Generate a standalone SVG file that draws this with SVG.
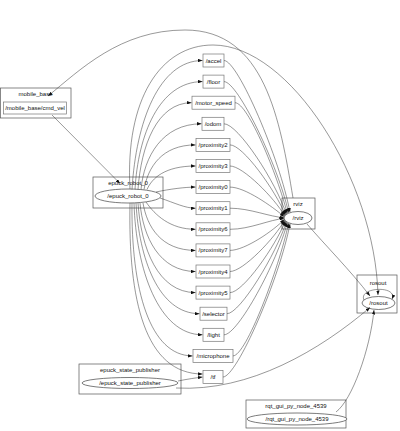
<svg xmlns="http://www.w3.org/2000/svg" width="400" height="431" viewBox="0 0 400 431">
<defs>
<marker id="ah" markerUnits="userSpaceOnUse" markerWidth="4.5" markerHeight="3.4" refX="4.5" refY="1.7" orient="auto"><path d="M0,0 L4.5,1.7 L0,3.4 z" fill="#111"/></marker>
</defs>
<style>
.cl{fill:none;stroke:#555;stroke-width:0.7}
.tp{fill:#fff;stroke:#777;stroke-width:0.7}
.nd{fill:#fff;stroke:#444;stroke-width:0.7}
.e{fill:none;stroke:#333;stroke-width:0.5;marker-end:url(#ah)}
text{font-family:"Liberation Sans",Arial,sans-serif;font-size:6px;fill:#111;text-anchor:middle}
</style>
<rect width="400" height="431" fill="#fff"/>
<g id="mobile_base"><rect class="cl" x="0.5" y="88" width="70.5" height="30"/><text x="35.5" y="96">mobile_base</text><rect class="tp" x="3.5" y="102" width="63" height="12"/><text x="35" y="110">/mobile_base/cmd_vel</text></g>
<g id="epuck_robot_0"><rect class="cl" x="93" y="177" width="70" height="31"/><text x="128" y="184.5">epuck_robot_0</text><ellipse class="nd" cx="128" cy="196" rx="33" ry="7"/><text x="128" y="198">/epuck_robot_0</text></g>
<g id="rviz"><rect class="cl" x="282" y="198" width="33" height="31"/><text x="298" y="205.5">rviz</text><ellipse class="nd" cx="298" cy="218" rx="14" ry="6.5"/><text x="298" y="220">/rviz</text></g>
<g id="rosout"><rect class="cl" x="357" y="275" width="40" height="38"/><text x="378" y="285">rosout</text><ellipse class="nd" cx="378.5" cy="303" rx="16.5" ry="6.5"/><text x="378.5" y="305">/rosout</text></g>
<g id="epuck_state_publisher"><rect class="cl" x="79" y="364" width="102" height="30"/><text x="130" y="372">epuck_state_publisher</text><ellipse class="nd" cx="130" cy="383" rx="48" ry="5.5"/><text x="130" y="385">/epuck_state_publisher</text></g>
<g id="rqt_gui_py_node_4539"><rect class="cl" x="246" y="400" width="100" height="28"/><text x="296" y="408">rqt_gui_py_node_4539</text><ellipse class="nd" cx="297" cy="419" rx="50" ry="6"/><text x="297" y="421">/rqt_gui_py_node_4539</text></g>
<g id="t_accel"><rect class="tp" x="203" y="54" width="21" height="13"/><text x="213.5" y="62.5">/accel</text></g>
<g id="t_floor"><rect class="tp" x="203" y="75.1" width="21" height="13"/><text x="213.5" y="83.6">/floor</text></g>
<g id="t_motor_speed"><rect class="tp" x="192" y="96.2" width="43" height="13"/><text x="213.5" y="104.7">/motor_speed</text></g>
<g id="t_odom"><rect class="tp" x="202" y="117.3" width="22" height="13"/><text x="213" y="125.8">/odom</text></g>
<g id="t_proximity2"><rect class="tp" x="196" y="138.4" width="34" height="13"/><text x="213" y="146.9">/proximity2</text></g>
<g id="t_proximity3"><rect class="tp" x="196" y="159.5" width="34" height="13"/><text x="213" y="168">/proximity3</text></g>
<g id="t_proximity0"><rect class="tp" x="196" y="180.6" width="34" height="13"/><text x="213" y="189.1">/proximity0</text></g>
<g id="t_proximity1"><rect class="tp" x="196" y="201.7" width="34" height="13"/><text x="213" y="210.2">/proximity1</text></g>
<g id="t_proximity6"><rect class="tp" x="196" y="222.8" width="34" height="13"/><text x="213" y="231.3">/proximity6</text></g>
<g id="t_proximity7"><rect class="tp" x="196" y="243.9" width="34" height="13"/><text x="213" y="252.4">/proximity7</text></g>
<g id="t_proximity4"><rect class="tp" x="196" y="265" width="34" height="13"/><text x="213" y="273.5">/proximity4</text></g>
<g id="t_proximity5"><rect class="tp" x="196" y="286.1" width="34" height="13"/><text x="213" y="294.6">/proximity5</text></g>
<g id="t_selector"><rect class="tp" x="200" y="307.2" width="27" height="13"/><text x="213.5" y="315.7">/selector</text></g>
<g id="t_light"><rect class="tp" x="203" y="328.3" width="21" height="13"/><text x="213.5" y="336.8">/light</text></g>
<g id="t_microphone"><rect class="tp" x="193" y="349.4" width="40" height="13"/><text x="213" y="357.9">/microphone</text></g>
<g id="t_tf"><rect class="tp" x="203" y="370.5" width="20" height="13"/><text x="213" y="379">/tf</text></g>
<g id="connectors">
<path class="e" d="M52,115 L120,183.5"/>
<path class="e" d="M293,198 C280,120 265,30 185,30 C120,30 80,70 48,96"/>
<path class="e" d="M130,189 C125,100 160,45 213,45 C290,45 375,180 378,295"/>
<path class="e" d="M307,224 C325,245 350,270 370,296"/>
<path class="e" d="M176,388 C250,392 320,350 370,307.5"/>
<path class="e" d="M336,412 C352,400 370,350 374,310"/>
<path class="e" d="M364,300 C358,287 398,285 392,299"/>
<path class="e" d="M178,381 C188,379 195,378 202.5,377"/>
<path class="e" d="M132,189.5 C136,122 159,60.5 202.5,60.5"/>
<path class="e" d="M135,189.5 C138,135.5 159,81.6 202.5,81.6"/>
<path class="e" d="M138,189.5 C141,146 157,102.7 191.5,102.7"/>
<path class="e" d="M141,189.5 C144,156.6 162.4,123.8 201.5,123.8"/>
<path class="e" d="M144,189.5 C148,167 162,144.9 195.5,144.9"/>
<path class="e" d="M147,189.5 C152,178 165,166 195.5,166"/>
<path class="e" d="M156,192 C170,189 185,187.1 195.5,187.1"/>
<path class="e" d="M160,198 C175,203 185,208.2 195.5,208.2"/>
<path class="e" d="M146,202 C155,215 170,229.3 195.5,229.3"/>
<path class="e" d="M143,203 C147,226.7 161,250.4 195.5,250.4"/>
<path class="e" d="M140,203 C143,237 159.6,271.5 195.5,271.5"/>
<path class="e" d="M138,203 C141,248 158,292.6 195.5,292.6"/>
<path class="e" d="M136,203 C139,258 158.4,313.7 199.5,313.7"/>
<path class="e" d="M134,203 C136,269 158.5,334.8 202.5,334.8"/>
<path class="e" d="M132,203 C131,290 150,355.9 192.5,355.9"/>
<path class="e" d="M130,203 C128,300 145,374 202.5,374"/>
<path class="e" d="M224,60.5 C238,60.5 280,159.2 290,212.3"/>
<path class="e" d="M224,81.6 C238,81.6 278.6,166.9 288.6,212.8"/>
<path class="e" d="M235,102.7 C248,102.7 277.3,174.7 287.3,213.5"/>
<path class="e" d="M224,123.8 C238,123.8 276.3,182.6 286.3,214.2"/>
<path class="e" d="M230,144.9 C243,144.9 275.4,190.5 285.4,215"/>
<path class="e" d="M230,166 C243,166 274.7,198.4 284.7,215.8"/>
<path class="e" d="M230,187.1 C245,187.1 272,206.3 284.3,216.7"/>
<path class="e" d="M230,208.2 C250,208.2 270,217 284,217.6"/>
<path class="e" d="M230,229.3 C250,229.3 270,219.5 284,218.5"/>
<path class="e" d="M230,250.4 C245,250.4 274.3,230.2 284.3,219.3"/>
<path class="e" d="M230,271.5 C243,271.5 274.7,238.2 284.7,220.2"/>
<path class="e" d="M230,292.6 C243,292.6 275.4,246.1 285.4,221"/>
<path class="e" d="M227,313.7 C240,313.7 276.3,254 286.3,221.8"/>
<path class="e" d="M224,334.8 C238,334.8 277.3,261.8 287.3,222.5"/>
<path class="e" d="M233,355.9 C246,355.9 278.6,269.6 288.6,223.2"/>
<path class="e" d="M223,377 C237,377 280,277.4 290,223.7"/>
</g>
</svg>
